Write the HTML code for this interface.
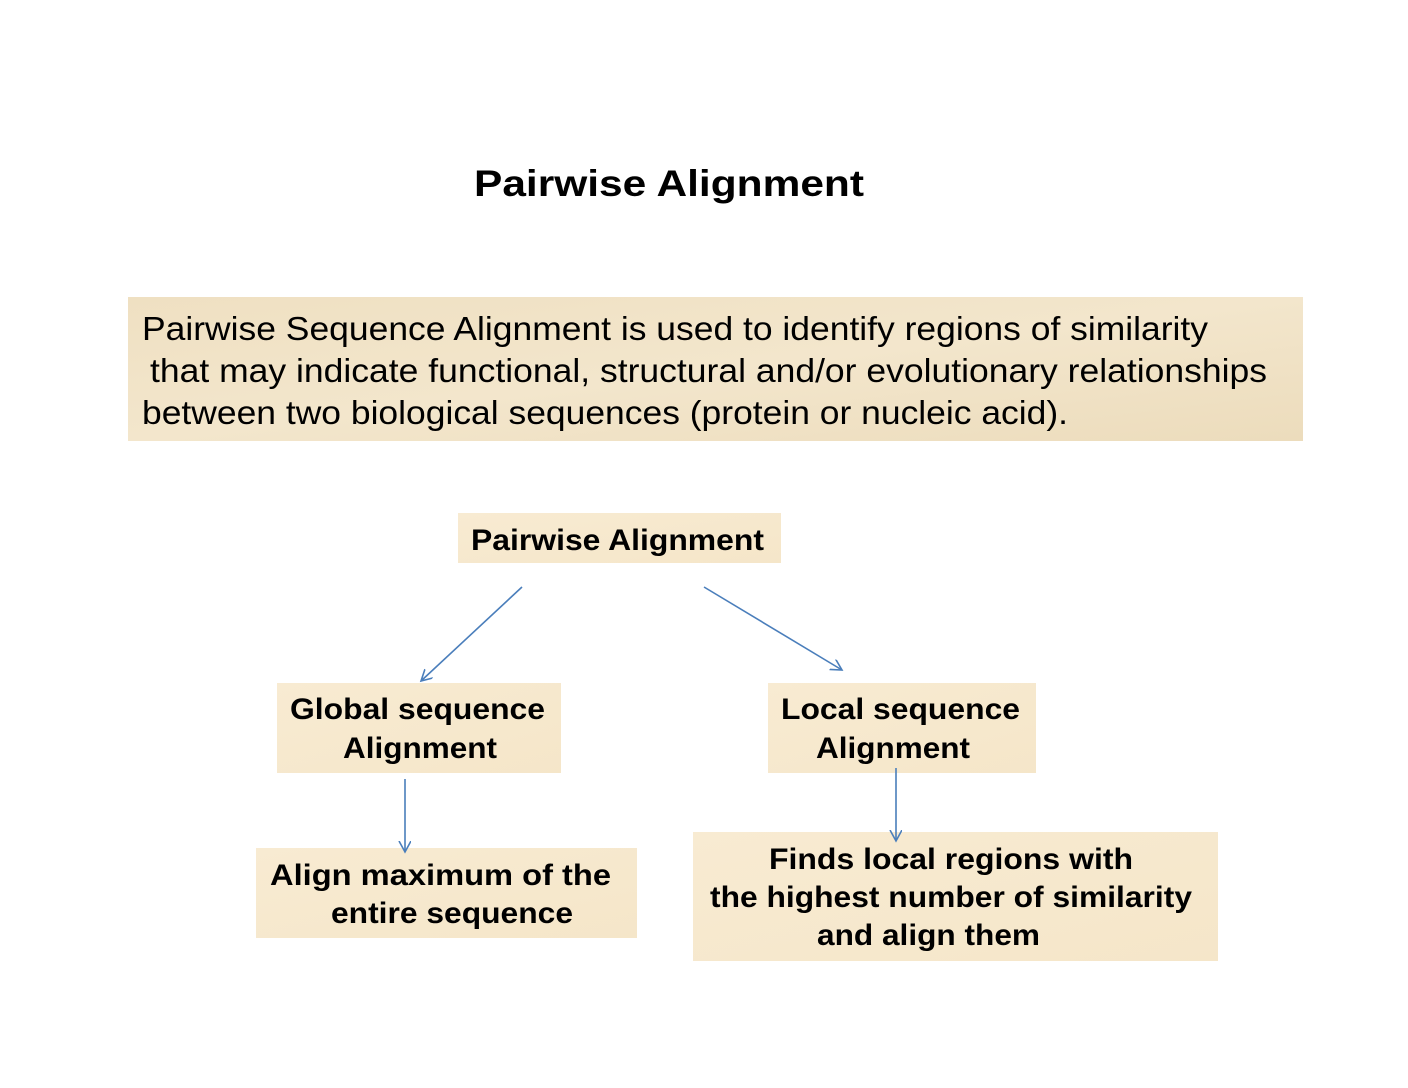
<!DOCTYPE html>
<html><head><meta charset="utf-8"><style>
html,body{margin:0;padding:0;background:#fff;}
svg{display:block;}
text{font-family:"Liberation Sans",Arial,sans-serif;fill:#000;}
.b{font-weight:bold;}
</style></head><body>
<svg width="1408" height="1088" viewBox="0 0 1408 1088" xmlns="http://www.w3.org/2000/svg">
<defs>
<linearGradient id="g1" x1="0" y1="0" x2="1" y2="1">
<stop offset="0" stop-color="#efe0c2"/><stop offset="0.5" stop-color="#f3e6cc"/><stop offset="1" stop-color="#ecdcbc"/>
</linearGradient>
<linearGradient id="g2" x1="0" y1="0" x2="1" y2="1">
<stop offset="0" stop-color="#f8ebd2"/><stop offset="1" stop-color="#f5e6c9"/>
</linearGradient>
<marker id="ar" markerWidth="14" markerHeight="14" refX="11" refY="6" orient="auto" markerUnits="userSpaceOnUse">
<path d="M0,0 L11,6 L0,12" fill="none" stroke="#4a7ebb" stroke-width="1.6"/>
</marker>
</defs>
<text x="474" y="196" class="b" font-size="37" textLength="390" lengthAdjust="spacingAndGlyphs">Pairwise Alignment</text>

<rect x="128" y="297" width="1175" height="144" fill="url(#g1)"/>
<text x="142" y="340" font-size="33" textLength="1066" lengthAdjust="spacingAndGlyphs">Pairwise Sequence Alignment is used to identify regions of similarity</text>
<text x="150" y="382" font-size="33" textLength="1117" lengthAdjust="spacingAndGlyphs">that may indicate functional, structural and/or evolutionary relationships</text>
<text x="142" y="424" font-size="33" textLength="926" lengthAdjust="spacingAndGlyphs">between two biological sequences (protein or nucleic acid).</text>

<rect x="458" y="513" width="323" height="50" fill="url(#g2)"/>
<text x="471" y="550" class="b" font-size="30" textLength="293" lengthAdjust="spacingAndGlyphs">Pairwise Alignment</text>

<rect x="277" y="683" width="284" height="90" fill="url(#g2)"/>
<text x="290" y="719" class="b" font-size="30" textLength="255" lengthAdjust="spacingAndGlyphs">Global sequence</text>
<text x="343" y="758" class="b" font-size="30" textLength="154" lengthAdjust="spacingAndGlyphs">Alignment</text>

<rect x="768" y="683" width="268" height="90" fill="url(#g2)"/>
<text x="781" y="719" class="b" font-size="30" textLength="239" lengthAdjust="spacingAndGlyphs">Local sequence</text>
<text x="816" y="758" class="b" font-size="30" textLength="154" lengthAdjust="spacingAndGlyphs">Alignment</text>

<rect x="256" y="848" width="381" height="90" fill="url(#g2)"/>
<text x="270" y="885" class="b" font-size="30" textLength="341" lengthAdjust="spacingAndGlyphs">Align maximum  of the</text>
<text x="331" y="923" class="b" font-size="30" textLength="242" lengthAdjust="spacingAndGlyphs">entire sequence</text>

<rect x="693" y="832" width="525" height="129" fill="url(#g2)"/>
<text x="769" y="869" class="b" font-size="30" textLength="364" lengthAdjust="spacingAndGlyphs">Finds local regions with</text>
<text x="710" y="907" class="b" font-size="30" textLength="482" lengthAdjust="spacingAndGlyphs">the highest number of similarity</text>
<text x="817" y="945" class="b" font-size="30" textLength="223" lengthAdjust="spacingAndGlyphs">and align them</text>

<g stroke="#4a7ebb" stroke-width="1.6" fill="none">
<line x1="522" y1="587" x2="421" y2="681" marker-end="url(#ar)"/>
<line x1="704" y1="587" x2="842" y2="670" marker-end="url(#ar)"/>
<line x1="405" y1="779" x2="405" y2="852" marker-end="url(#ar)"/>
<line x1="896" y1="768" x2="896" y2="841" marker-end="url(#ar)"/>
</g>
</svg>
</body></html>
